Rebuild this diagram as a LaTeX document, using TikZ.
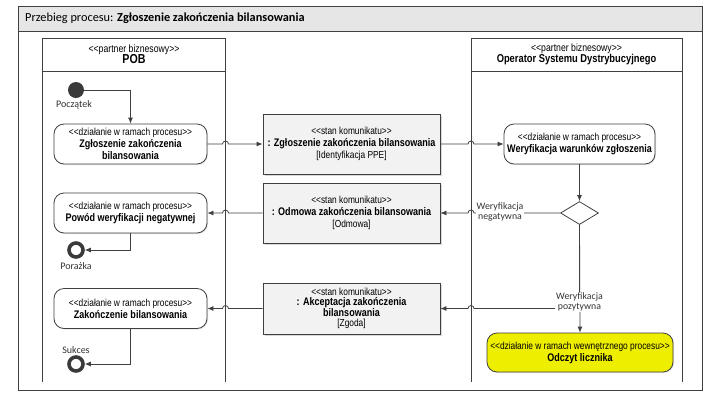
\documentclass[tikz,border=0pt]{standalone}
\usepackage{fontspec}
\setmainfont{Carlito}
\newfontfamily\nar[FakeStretch=0.82]{Liberation Sans}
\usetikzlibrary{arrows.meta,shapes.geometric,shadows,calc}
\definecolor{ln}{HTML}{404040}
\definecolor{titlebg}{HTML}{E6E6E6}
\definecolor{msgbg}{HTML}{F2F2F2}
\definecolor{yel}{HTML}{EEEE00}
\newcommand{\stt}[1]{{\nar\fontsize{10.2}{11.5}\selectfont #1}}
\newcommand{\bdd}[1]{{\nar\bfseries\fontsize{11}{12.5}\selectfont #1}}
\tikzset{
  frameline/.style={draw=ln, line width=0.8pt},
  actbox/.style={draw=ln, line width=0.8pt, fill=white, rounded corners=10pt, minimum width=153pt, minimum height=40pt, align=center, inner sep=1pt, drop shadow={shadow xshift=1pt, shadow yshift=-1pt, fill=gray!40}},
  msgbox/.style={draw=ln, line width=0.8pt, fill=msgbg, minimum width=177pt, align=center, inner sep=1pt, drop shadow={shadow xshift=1.5pt, shadow yshift=-1.5pt, fill=gray!60}},
  flow/.style={draw=ln, line width=0.8pt, -{Latex[length=6pt,width=5pt]}},
  startnode/.style={circle, fill=ln!90!black, minimum size=16pt, inner sep=0pt},
  endnode/.style={circle, draw=ln!90!black, line width=3.6pt, fill=white, minimum size=14pt, inner sep=0pt},
  smalllbl/.style={font=\fontsize{10}{11}\selectfont, text=ln!80!black, inner sep=0.5pt},
  edgelbl/.style={font=\fontsize{9.8}{10.5}\selectfont, fill=white, align=center, inner sep=1pt, text=ln!80!black},
}
\begin{document}
\begin{tikzpicture}[x=1pt,y=1pt]
\useasboundingbox (0,0) rectangle (710,-400);
\fill[white] (0,0) rectangle (710,-400);
% outer frame
\fill[titlebg] (18,-6) rectangle (702,-31);
\draw[frameline] (18,-6) rectangle (702,-390);
\draw[frameline] (18,-31) -- (702,-31);
\node[anchor=west, inner sep=0pt, font=\fontsize{12.3}{14}\selectfont] (title) at (25,-18.5) {Przebieg procesu: \textbf{Zgłoszenie zakończenia bilansowania}};
% lanes
\coordinate (laneLr) at (225.5,0);
\coordinate (laneRl) at (471,0);
\draw[frameline] (42.5,-382) -- (42.5,-38) -- (225.5,-38) -- (225.5,-382);
\draw[frameline] (42.5,-71) -- (225.5,-71);
\draw[frameline] (471,-382) -- (471,-38) -- (682,-38) -- (682,-382);
\draw[frameline] (471,-71) -- (682,-71);
\node[align=center, inner sep=0pt] (laneLh) at (134,-54.5) {{\nar\fontsize{10.6}{12}\selectfont <<partner biznesowy>>}\\[-1pt]{\nar\bfseries\fontsize{13}{14}\selectfont POB}};
\node[align=center, inner sep=0pt] (laneRh) at (576.5,-54.5) {{\nar\fontsize{10.6}{12}\selectfont <<partner biznesowy>>}\\[-1pt]{\nar\bfseries\fontsize{11.4}{13}\selectfont Operator Systemu Dystrybucyjnego}};
% nodes
\node[startnode] (start) at (76,-90) {};
\node[smalllbl] (startl) at (74,-105) {Początek};
\node[actbox] (act1) at (130.5,-144) {\stt{<<działanie w ramach procesu>>}\\\bdd{Zgłoszenie zakończenia}\\\bdd{bilansowania}};
\node[actbox] (act2) at (130.5,-213) {\stt{<<działanie w ramach procesu>>}\\\bdd{Powód weryfikacji negatywnej}};
\node[actbox] (act3) at (130.5,-308.5) {\stt{<<działanie w ramach procesu>>}\\\bdd{Zakończenie bilansowania}};
\node[endnode] (fail) at (76,-250) {};
\node[smalllbl] (faill) at (76,-266) {Porażka};
\node[endnode] (succ) at (76,-364) {};
\node[smalllbl] (succl) at (76,-350) {Sukces};
\node[msgbox, minimum height=60pt] (msg1) at (351.5,-144) {\stt{<<stan komunikatu>>}\\\bdd{: Zgłoszenie zakończenia bilansowania}\\\stt{[Identyfikacja PPE]}};
\node[msgbox, minimum height=60pt] (msg2) at (351.5,-213) {\stt{<<stan komunikatu>>}\\\bdd{: Odmowa zakończenia bilansowania}\\\stt{[Odmowa]}};
\node[msgbox, minimum height=51pt] (msg3) at (351.5,-308.5) {\stt{<<stan komunikatu>>}\\[-1.5pt]\bdd{: Akceptacja zakończenia}\\[-1.5pt]\bdd{bilansowania}\\[-1.5pt]\stt{[Zgoda]}};
\node[actbox, minimum width=151pt] (ver) at (579.5,-144) {\stt{<<działanie w ramach procesu>>}\\\bdd{Weryfikacja warunków zgłoszenia}};
\node[diamond, draw=ln, line width=0.8pt, fill=white, minimum width=38pt, minimum height=23pt, inner sep=0pt, aspect=1.65] (dia) at (579.5,-213) {};
\node[actbox, fill=yel, minimum width=186pt, minimum height=39pt] (odc) at (580,-352.5) {\stt{<<działanie w ramach wewnętrznego procesu>>}\\\bdd{Odczyt licznika}};
% connectors
\draw[flow] (start.east) -| (act1.north);
\draw[flow] (act1.east) -- ($(act1.east -| laneLr)+(-3,0)$) arc[start angle=180,end angle=0,radius=3] -- (msg1.west);
\draw[flow] (msg1.east) -- ($(msg1.east -| laneRl)+(-3,0)$) arc[start angle=180,end angle=0,radius=3] -- (ver.west);
\draw[flow] (ver.south) -- (dia.north);
\draw[flow] (dia.west) -- ($(dia.west -| laneRl)+(3,0)$) arc[start angle=0,end angle=180,radius=3] -- (msg2.east);
\draw[flow] (dia.south) -- (odc.north);
\draw[flow] (dia.south) -- (dia.south |- msg3.east) -- ($(msg3.east -| laneRl)+(3,0)$) arc[start angle=0,end angle=180,radius=3] -- (msg3.east);
\draw[flow] (msg2.west) -- ($(msg2.west -| laneLr)+(3,0)$) arc[start angle=0,end angle=180,radius=3] -- (act2.east);
\draw[flow] (msg3.west) -- ($(msg3.west -| laneLr)+(3,0)$) arc[start angle=0,end angle=180,radius=3] -- (act3.east);
\draw[flow] (act2.south) |- (fail.east);
\draw[flow] (act3.south) |- (succ.east);
% edge labels
\node[edgelbl] (neg) at (500,-212) {Weryfikacja\\negatywna};
\node[edgelbl] (pos) at (579.5,-302) {Weryfikacja\\pozytywna};
\end{tikzpicture}
\end{document}
